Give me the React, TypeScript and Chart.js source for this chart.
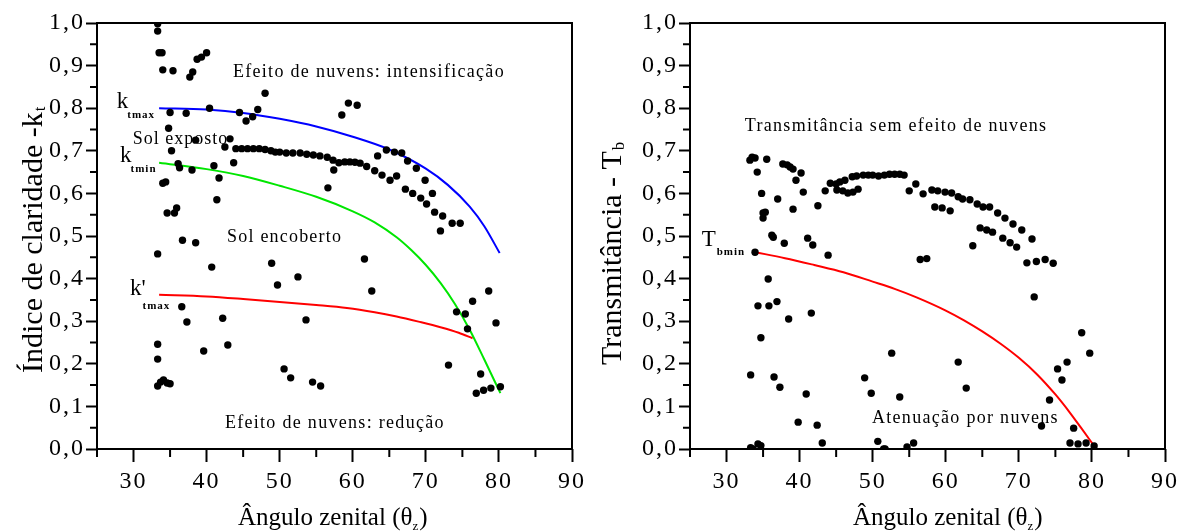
import { useEffect, useRef } from "react";
import { Chart, registerables } from "chart.js";

Chart.register(...registerables);

type Pt = [number, number];

// Axis ticks (zenith angle in degrees, index / transmittance 0..1)
const xMajorTicks = [30, 40, 50, 60, 70, 80, 90];
const xMinorTicks = [25, 35, 45, 55, 65, 75, 85];
const yMajorTicks = [0, 0.1, 0.2, 0.3, 0.4, 0.5, 0.6, 0.7, 0.8, 0.9, 1.0];
const yMinorTicks = [0.05, 0.15, 0.25, 0.35, 0.45, 0.55, 0.65, 0.75, 0.85, 0.95];

// Clearness index kt versus zenith angle
const clearnessIndex: Pt[] = [
  [33.3, 0.998], [33.3, 0.981], [33.5, 0.93], [33.9, 0.93], [34.0, 0.89], [35.4, 0.888],
  [37.7, 0.873], [38.1, 0.885], [38.7, 0.915], [39.3, 0.92], [40.0, 0.93], [40.4, 0.8],
  [35.0, 0.79], [37.2, 0.788], [44.5, 0.79], [45.4, 0.77], [46.3, 0.78], [47.0, 0.797],
  [48.0, 0.835], [34.8, 0.753], [35.2, 0.7], [36.1, 0.67], [36.3, 0.66], [38.0, 0.655],
  [41.0, 0.665], [41.7, 0.636], [41.4, 0.585], [38.5, 0.725], [43.2, 0.728], [42.5, 0.709],
  [43.7, 0.672],
  [44.0, 0.705], [44.8, 0.705], [45.6, 0.705], [46.4, 0.705], [47.2, 0.705], [48.0, 0.703],
  [48.8, 0.7], [49.4, 0.697], [50.0, 0.697], [50.9, 0.695], [51.8, 0.695], [52.8, 0.695],
  [53.7, 0.692], [54.6, 0.69], [55.5, 0.688], [56.5, 0.685], [57.3, 0.678], [58.1, 0.672],
  [58.9, 0.674], [59.6, 0.674], [60.3, 0.673], [61.0, 0.671], [61.9, 0.663], [63.0, 0.653],
  [64.0, 0.643], [65.1, 0.631], [66.0, 0.641],
  [57.4, 0.655], [56.6, 0.613], [58.5, 0.784], [59.4, 0.812], [60.6, 0.807],
  [63.4, 0.688], [64.6, 0.702], [65.7, 0.697], [66.7, 0.695], [67.5, 0.676], [68.7, 0.659],
  [69.9, 0.631], [70.9, 0.6], [67.2, 0.61], [68.2, 0.6], [69.3, 0.589], [70.1, 0.575],
  [71.2, 0.556], [72.3, 0.547], [73.6, 0.53], [74.7, 0.53], [72.0, 0.512], [61.6, 0.446],
  [34.0, 0.624], [34.4, 0.627], [34.6, 0.554], [35.6, 0.554], [35.9, 0.566], [36.7, 0.49],
  [38.5, 0.484], [33.3, 0.458], [40.7, 0.427], [48.9, 0.436], [49.7, 0.385], [52.5, 0.404],
  [36.6, 0.334], [37.3, 0.298], [42.2, 0.307], [42.9, 0.244], [39.6, 0.23], [33.3, 0.246],
  [33.3, 0.211], [33.3, 0.148], [33.7, 0.157], [34.1, 0.162], [34.6, 0.155], [35.0, 0.153],
  [50.6, 0.188], [51.5, 0.167], [53.6, 0.303], [54.5, 0.157], [55.6, 0.148], [62.6, 0.371],
  [73.1, 0.197], [74.2, 0.322], [75.4, 0.317], [75.7, 0.282], [76.4, 0.347], [78.6, 0.371],
  [79.6, 0.296], [77.5, 0.176], [76.9, 0.131], [77.9, 0.138], [78.9, 0.143], [80.2, 0.146],
];

// Limit curves for the clearness index
const ktMaxCurve: Pt[] = [
  [33.5, 0.8], [40, 0.797], [45, 0.789], [50, 0.775], [55, 0.757], [60, 0.733],
  [65, 0.703], [70, 0.658], [73, 0.62], [76, 0.569], [78, 0.523], [80.1, 0.46],
];
const ktMinCurve: Pt[] = [
  [33.5, 0.672], [40, 0.657], [45, 0.641], [50, 0.618], [55, 0.592], [60, 0.558],
  [63, 0.532], [66, 0.497], [68, 0.467], [70, 0.432], [72, 0.39], [74, 0.34],
  [76, 0.28], [78, 0.21], [80.2, 0.131],
];
const ktPrimeMaxCurve: Pt[] = [
  [33.5, 0.362], [40, 0.358], [45, 0.352], [50, 0.345], [55, 0.338], [59.2, 0.331],
  [63, 0.321], [66, 0.311], [69, 0.299], [72, 0.286], [74.5, 0.273], [76.4, 0.26],
];

// Beam transmittance Tb versus zenith angle
const beamTransmittance: Pt[] = [
  [33.2, 0.678], [33.5, 0.685], [33.9, 0.683], [34.2, 0.65], [35.5, 0.68], [34.8, 0.6],
  [35.0, 0.554], [35.3, 0.556], [35.0, 0.542], [36.2, 0.502], [36.4, 0.497], [37.9, 0.483],
  [37.0, 0.587], [37.7, 0.669], [38.3, 0.667], [38.7, 0.662], [39.1, 0.657], [40.2, 0.648],
  [39.5, 0.631], [39.1, 0.563], [40.5, 0.603], [41.1, 0.495], [41.8, 0.479], [43.9, 0.455],
  [42.5, 0.571], [43.5, 0.606],
  [44.2, 0.624], [45.0, 0.622], [45.5, 0.627], [46.2, 0.631], [47.2, 0.639], [47.8, 0.641],
  [48.7, 0.643], [49.4, 0.643], [50.0, 0.643], [50.8, 0.641], [51.6, 0.643], [52.3, 0.645],
  [53.0, 0.645], [53.7, 0.645], [54.3, 0.643],
  [45.1, 0.608], [45.9, 0.606], [46.6, 0.601], [47.3, 0.603], [48.0, 0.61],
  [55.0, 0.606], [55.9, 0.622], [56.9, 0.599], [58.1, 0.608], [58.9, 0.606], [59.9, 0.603],
  [60.8, 0.601], [61.7, 0.592], [62.3, 0.587], [63.3, 0.585], [64.3, 0.575], [65.1, 0.568],
  [66.0, 0.568], [58.5, 0.568], [59.5, 0.566], [60.6, 0.559], [67.1, 0.554], [68.1, 0.542],
  [69.2, 0.528], [70.4, 0.514], [71.8, 0.493],
  [64.7, 0.519], [65.6, 0.514], [66.4, 0.509], [67.8, 0.495], [68.8, 0.484], [69.7, 0.474],
  [63.7, 0.477], [56.5, 0.445], [57.4, 0.447],
  [71.1, 0.437], [72.4, 0.44], [73.6, 0.445], [74.7, 0.436], [72.1, 0.357],
  [52.6, 0.225], [61.7, 0.204], [62.8, 0.143], [53.7, 0.122], [78.6, 0.273], [79.7, 0.225],
  [75.3, 0.188], [76.6, 0.204], [75.9, 0.162], [74.2, 0.115], [73.1, 0.054], [77.5, 0.049],
  [77.0, 0.014], [78.1, 0.012], [79.2, 0.014], [80.3, 0.007], [51.7, 0.0], [54.7, 0.005],
  [55.6, 0.014],
  [35.7, 0.399], [34.3, 0.336], [35.8, 0.336], [36.9, 0.346], [38.5, 0.305], [41.6, 0.319],
  [34.7, 0.261], [33.3, 0.174], [36.5, 0.169], [37.3, 0.145], [40.9, 0.129], [39.8, 0.063],
  [42.4, 0.056], [43.1, 0.014], [33.3, 0.003], [33.6, 0.0], [34.3, 0.012], [34.7, 0.008],
  [48.9, 0.167], [49.8, 0.131], [50.7, 0.018], [51.5, 0.0], [33.9, 0.462],
];

// Minimum transmittance curve
const tbMinCurve: Pt[] = [
  [33.9, 0.462], [38, 0.448], [42, 0.432], [46, 0.415], [50, 0.393], [53, 0.376],
  [56, 0.356], [60, 0.325], [62.5, 0.302], [65, 0.276], [67.5, 0.247], [70, 0.214],
  [72.5, 0.175], [75, 0.128], [77, 0.085], [78.5, 0.05], [80.4, 0.005],
];

const SERIF = '"Liberation Serif", "Times New Roman", serif';

interface Note {
  x: number;
  y: number;
  text: string;
  size: number;
  spacing: number;
  sub?: string;
  subSize?: number;
  subDx?: number;
  subDy?: number;
}

interface Panel {
  points: Pt[];
  curves: { data: Pt[]; color: string }[];
  notes: Note[];
  yTitle: string;
  yTitleSub: string;
  yTitleX: number;
  yTitleY: number;
  xTitleX: number;
  yAxisWidth: number;
  padRight: number;
}

const leftPanel: Panel = {
  points: clearnessIndex,
  curves: [
    { data: ktMaxCurve, color: "#0000ff" },
    { data: ktMinCurve, color: "#00e600" },
    { data: ktPrimeMaxCurve, color: "#ff0000" },
  ],
  notes: [
    { x: 43.6, y: 0.873, text: "Efeito de nuvens: intensificação", size: 18, spacing: 1.3 },
    { x: 27.7, y: 0.8, text: "k", size: 23, spacing: 0, sub: "tmax", subSize: 11, subDx: -1, subDy: 10 },
    { x: 29.9, y: 0.716, text: "Sol exposto", size: 18, spacing: 1 },
    { x: 28.15, y: 0.674, text: "k", size: 23, spacing: 0, sub: "tmin", subSize: 11, subDx: -1, subDy: 10 },
    { x: 42.8, y: 0.486, text: "Sol encoberto", size: 18, spacing: 1.2 },
    { x: 29.5, y: 0.3615, text: "k'", size: 23, spacing: 0, sub: "tmax", subSize: 11, subDx: -3, subDy: 14 },
    { x: 42.5, y: 0.049, text: "Efeito de nuvens: redução", size: 18, spacing: 1.3 },
  ],
  yTitle: "Índice de claridade -k",
  yTitleSub: "t",
  yTitleX: 42,
  yTitleY: 373,
  xTitleX: 238,
  yAxisWidth: 97,
  padRight: 20,
};

const rightPanel: Panel = {
  points: beamTransmittance,
  curves: [{ data: tbMinCurve, color: "#ff0000" }],
  notes: [
    { x: 32.5, y: 0.746, text: "Transmitância sem efeito de nuvens", size: 18, spacing: 1.3 },
    { x: 26.6, y: 0.4765, text: "T", size: 23, spacing: 0, sub: "bmin", subSize: 11, subDx: 1, subDy: 9 },
    { x: 49.9, y: 0.061, text: "Atenuação por nuvens", size: 18, spacing: 1.3 },
  ],
  yTitle: "Transmitância - T",
  yTitleSub: "b",
  yTitleX: 29,
  yTitleY: 365,
  xTitleX: 261,
  yAxisWidth: 98,
  padRight: 19,
};

const toXY = (pts: Pt[]) => pts.map(([x, y]) => ({ x, y }));

function setSpacing(ctx: CanvasRenderingContext2D, px: number) {
  (ctx as any).letterSpacing = `${px}px`;
}

function makeDecorations(panel: Panel) {
  return {
    id: "decorations",
    beforeDraw(chart: Chart) {
      setSpacing(chart.ctx, 2);
    },
    beforeDatasetsDraw(chart: Chart) {
      const ctx = chart.ctx;
      setSpacing(ctx, 0);
      const { left, right, top, bottom } = chart.chartArea;
      const xs = chart.scales.x;
      const ys = chart.scales.y;
      ctx.save();
      ctx.strokeStyle = "#000";
      ctx.lineWidth = 2;
      ctx.strokeRect(left, top, right - left, bottom - top);
      ctx.beginPath();
      xMinorTicks.forEach((v) => {
        const px = xs.getPixelForValue(v);
        ctx.moveTo(px, bottom);
        ctx.lineTo(px, bottom + 8);
      });
      yMinorTicks.forEach((v) => {
        const py = ys.getPixelForValue(v);
        ctx.moveTo(left, py);
        ctx.lineTo(left - 7, py);
      });
      ctx.stroke();
      ctx.restore();
    },
    afterDatasetsDraw(chart: Chart) {
      const ctx = chart.ctx;
      const xs = chart.scales.x;
      const ys = chart.scales.y;
      ctx.save();
      ctx.fillStyle = "#000";
      ctx.textAlign = "left";
      ctx.textBaseline = "alphabetic";

      panel.notes.forEach((n) => {
        const px = xs.getPixelForValue(n.x);
        const py = ys.getPixelForValue(n.y);
        ctx.font = `${n.size}px ${SERIF}`;
        setSpacing(ctx, n.spacing);
        ctx.fillText(n.text, px, py);
        if (n.sub) {
          const w = ctx.measureText(n.text).width;
          ctx.font = `bold ${n.subSize}px ${SERIF}`;
          setSpacing(ctx, 1);
          ctx.fillText(n.sub, px + w + (n.subDx || 0), py + (n.subDy || 0));
        }
      });
      setSpacing(ctx, 0);

      // vertical axis title
      ctx.save();
      ctx.translate(panel.yTitleX, panel.yTitleY);
      ctx.rotate(-Math.PI / 2);
      ctx.font = `30px ${SERIF}`;
      ctx.fillText(panel.yTitle, 0, 0);
      const tw = ctx.measureText(panel.yTitle).width;
      ctx.font = `17px ${SERIF}`;
      ctx.fillText(panel.yTitleSub, tw + 1, 3);
      ctx.restore();

      // horizontal axis title
      const base = 525;
      let x = panel.xTitleX;
      const head = "Ângulo zenital (θ";
      ctx.font = `25px ${SERIF}`;
      ctx.fillText(head, x, base);
      x += ctx.measureText(head).width;
      ctx.font = `13px ${SERIF}`;
      ctx.fillText("z", x, base + 5);
      x += ctx.measureText("z").width + 1;
      ctx.font = `25px ${SERIF}`;
      ctx.fillText(")", x, base);

      ctx.restore();
    },
  };
}

function buildChart(canvas: HTMLCanvasElement, panel: Panel) {
  const datasets: any[] = [
    {
      data: toXY(panel.points),
      pointStyle: "circle",
      pointRadius: 3.7,
      pointBackgroundColor: "#000",
      pointBorderWidth: 0,
      showLine: false,
    },
    ...panel.curves.map((c) => ({
      data: toXY(c.data),
      showLine: true,
      borderColor: c.color,
      borderWidth: 2,
      pointRadius: 0,
      cubicInterpolationMode: "monotone",
      fill: false,
    })),
  ];

  return new Chart(canvas, {
    type: "scatter",
    data: { datasets },
    options: {
      animation: false,
      responsive: false,
      devicePixelRatio: 1,
      layout: { padding: { top: 23, right: panel.padRight, left: 0, bottom: 0 } },
      plugins: { legend: { display: false }, tooltip: { enabled: false } },
      scales: {
        x: {
          type: "linear",
          min: 25,
          max: 90,
          afterBuildTicks: (s: any) => {
            s.ticks = xMajorTicks.map((value) => ({ value }));
          },
          afterFit: (s: any) => {
            s.height = 82;
          },
          grid: {
            drawOnChartArea: false,
            drawTicks: true,
            tickLength: 13,
            tickWidth: 2,
            tickColor: "#000",
          },
          border: { display: false },
          ticks: {
            color: "#000",
            font: { family: SERIF, size: 24 },
            padding: 5,
            maxRotation: 0,
            autoSkip: false,
            callback: (v: any) => String(v),
          },
        },
        y: {
          type: "linear",
          min: 0,
          max: 1,
          afterBuildTicks: (s: any) => {
            s.ticks = yMajorTicks.map((value) => ({ value }));
          },
          afterFit: (s: any) => {
            s.width = panel.yAxisWidth;
          },
          grid: {
            drawOnChartArea: false,
            drawTicks: true,
            tickLength: 11,
            tickWidth: 2,
            tickColor: "#000",
          },
          border: { display: false },
          ticks: {
            color: "#000",
            font: { family: SERIF, size: 24 },
            padding: 1,
            autoSkip: false,
            callback: (v: any) => Number(v).toFixed(1).replace(".", ","),
          },
        },
      },
    },
    plugins: [makeDecorations(panel)],
  } as any);
}

export default function App() {
  const leftRef = useRef<HTMLCanvasElement>(null);
  const rightRef = useRef<HTMLCanvasElement>(null);

  useEffect(() => {
    const charts: Chart[] = [];
    if (leftRef.current) charts.push(buildChart(leftRef.current, leftPanel));
    if (rightRef.current) charts.push(buildChart(rightRef.current, rightPanel));
    return () => charts.forEach((c) => c.destroy());
  }, []);

  return (
    <div
      style={{
        position: "absolute",
        left: 0,
        top: 0,
        width: 1184,
        height: 531,
        background: "#fff",
        overflow: "hidden",
      }}
    >
      <canvas
        ref={leftRef}
        width={592}
        height={531}
        style={{ position: "absolute", left: 0, top: 0, display: "block" }}
      />
      <canvas
        ref={rightRef}
        width={592}
        height={531}
        style={{ position: "absolute", left: 592, top: 0, display: "block" }}
      />
    </div>
  );
}
